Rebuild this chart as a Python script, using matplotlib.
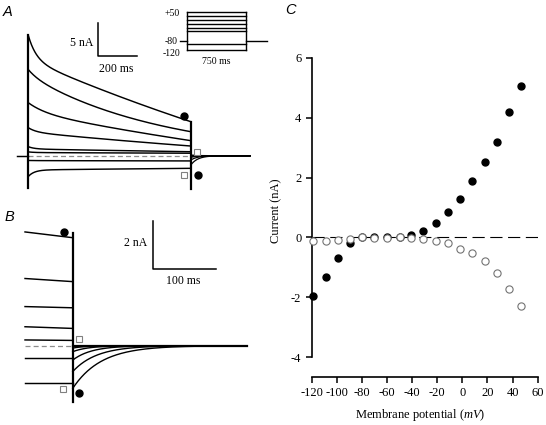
import numpy as np
import matplotlib
matplotlib.use('Agg')
import matplotlib.pyplot as plt

plt.rcParams['font.family'] = ['Liberation Serif', 'DejaVu Serif']
plt.rcParams['mathtext.fontset'] = 'custom'
plt.rcParams['mathtext.rm'] = 'Liberation Serif'
plt.rcParams['mathtext.it'] = 'Liberation Serif:italic'
plt.rcParams['axes.unicode_minus'] = False

# ---------------- Panel C data (I-V) ----------------
vm = [-119, -109, -99, -89.5, -80, -70, -60, -50, -40.7, -31, -21, -11.2,
      -1.7, 7.9, 18, 27.3, 37.3, 46.6]
i_filled = [-1.95, -1.34, -0.68, -0.20, 0.0, 0.03, 0.0, 0.0, 0.07, 0.21,
            0.48, 0.86, 1.29, 1.88, 2.53, 3.20, 4.19, 5.07]
i_open = [-0.13, -0.11, -0.09, -0.05, 0.02, -0.01, -0.01, 0.0, -0.01, -0.06,
          -0.12, -0.20, -0.38, -0.53, -0.80, -1.19, -1.73, -2.29]
xticks_c = [-120, -100, -80, -60, -40, -20, 0, 20, 40, 60]
yticks_c = [-4, -2, 0, 2, 4, 6]

# ---------------- Panel A data (current traces, nA / ms) ----------------
a_step_ms = 825
a_i_end = [5.2, 3.67, 2.3, 1.48, 0.61, 0.38, -0.80, -1.93]
a_d_slow = [9.5, 8.6, 4.35, 2.14, 0.42, 0.10, 0.05, -0.25]
a_tau_slow = [3000, 700, 3000, 3000, 3000, 3000, 3000, 3000]
a_d_fast = [3.7, 0.9, 1.45, 0.66, 0.35, 0.10, 0.02, -1.0]
a_tau_fast = [40, 50, 90, 40, 30, 30, 30, 30]
a_tail_amp = [0.1, -0.25, -0.66, -1.42]
a_tail_tau = 35
a_cap_low = [-4.94, -5.09]
a_marks_filled = [(792, 6.07), (860, -2.95)]
a_marks_open = [(855, 0.61), (792, -2.95)]

# inset protocol (mV)
proto_v = [50, 32, 13, -5, -24, -34, -95, -120]
proto_hold = -80
proto_ms = 750

# ---------------- Panel B data ----------------
b_pre_start = [4.74, 2.80, 1.63, 0.79, 0.24, -0.53, -1.57]
b_pre_end = [4.50, 2.67, 1.58, 0.72, 0.22, -0.53, -1.57]
b_pre_ms = 75.7
b_tail_amp = [-0.10, -0.25, -0.60, -1.08, -1.78]
b_tail_tau = [20, 25, 30, 38, 45]
b_tail_ms = 277
b_cap = (-2.35, 4.70)
b_marks_filled = [(-13.8, 4.72), (10, -1.98)]
b_marks_open = [(10, 0.28), (-15.9, -1.82)]

W, H = 546, 425
fig = plt.figure(figsize=(W / 100, H / 100), dpi=100)


def px_axes(x0, y0, x1, y1, xlim, ylim):
    ax = fig.add_axes([x0 / W, 1 - y1 / H, (x1 - x0) / W, (y1 - y0) / H])
    ax.set_xlim(*xlim)
    ax.set_ylim(*ylim)
    return ax


def ftext(x, y, s, **kw):
    fig.text(x / W, 1 - y / H, s, **kw)


LW = 1.05
# ================= Panel A =================
axA = px_axes(0, 0, 280, 200, ((0 - 28.3) / 0.197, (280 - 28.3) / 0.197),
              ((155.7 - 200) / 6.54, 155.7 / 6.54))
axA.axis('off')
T = a_step_ms
t = np.linspace(0, T, 600)
axA.plot([0, T], [0, 0], color='0.55', lw=0.9, dashes=(4, 2.5))
for ie, ds, ts, df, tf in zip(a_i_end, a_d_slow, a_tau_slow, a_d_fast, a_tau_fast):
    slow = (np.exp(-t / ts) - np.exp(-T / ts)) / (1 - np.exp(-T / ts))
    axA.plot(t, ie + ds * slow + df * np.exp(-t / tf), color='k', lw=LW)
top_peak = a_i_end[0] + a_d_slow[0] + a_d_fast[0]
axA.plot([-59, 0], [0, 0], color='k', lw=LW)
tt = np.linspace(T, 1125, 300)
axA.plot([T, 1125], [0, 0], color='k', lw=1.3)
for amp in a_tail_amp:
    axA.plot(tt, amp * np.exp(-(tt - T) / a_tail_tau), color='k', lw=0.9)
axA.plot([0, 0], [a_cap_low[0], top_peak], color='k', lw=1.6)
axA.plot([T, T], [a_cap_low[1], a_i_end[0]], color='k', lw=1.6)
for (x, y) in a_marks_filled:
    axA.plot(x, y, 'o', ms=5, color='k')
for (x, y) in a_marks_open:
    axA.plot(x, y, 's', ms=5, mfc='white', mec='0.5', mew=0.8)
# scale bar 5 nA / 200 ms
axA.plot([354, 354, 554], [15.24 + 5, 15.24, 15.24], color='k', lw=1.1)
ftext(93, 43.5, '5 nA', ha='right', va='center', fontsize=8.5)
ftext(116, 68.5, '200 ms', ha='center', va='center', fontsize=8.5)

# inset protocol
axP = px_axes(160, 0, 270, 70, ((160 - 186.7) / 0.0791, (270 - 186.7) / 0.0791),
              (-80 - 29 / 0.2254, -80 + 41 / 0.2254))
axP.axis('off')
for v in proto_v:
    axP.plot([0, proto_ms], [v, v], color='k', lw=1.0)
axP.plot([0, 0], [min(proto_v), max(proto_v)], color='k', lw=1.0)
axP.plot([proto_ms, proto_ms], [min(proto_v), max(proto_v)], color='k', lw=1.0)
axP.plot([-85, 0], [proto_hold, proto_hold], color='k', lw=1.0)
axP.plot([proto_ms, proto_ms + 262], [proto_hold, proto_hold], color='k', lw=1.0)
ftext(180, 13.5, '+50', ha='right', va='center', fontsize=7)
ftext(177.5, 41.5, '-80', ha='right', va='center', fontsize=7)
ftext(180, 53, '-120', ha='right', va='center', fontsize=7)
ftext(216, 62, '750 ms', ha='center', va='center', fontsize=7)

# ================= Panel B =================
axB = px_axes(0, 200, 280, 425, ((0 - 72.7) / 0.63, (280 - 72.7) / 0.63),
              ((345.7 - 425) / 24, (345.7 - 200) / 24))
axB.axis('off')
tp = np.linspace(-b_pre_ms, 0, 100)
axB.plot([-b_pre_ms, 0], [0, 0], color='0.55', lw=0.9, dashes=(4, 2.5))
for s0, s1 in zip(b_pre_start, b_pre_end):
    axB.plot(tp, s0 + (s1 - s0) * (tp + b_pre_ms) / b_pre_ms, color='k', lw=LW)
tb = np.linspace(0, b_tail_ms, 400)
axB.plot([0, b_tail_ms], [0, 0], color='k', lw=1.6)
for amp, tau in zip(b_tail_amp, b_tail_tau):
    axB.plot(tb, amp * np.exp(-tb / tau), color='k', lw=1.0)
axB.plot([0, 0], list(b_cap), color='k', lw=1.6)
for (x, y) in b_marks_filled:
    axB.plot(x, y, 'o', ms=5, color='k')
for (x, y) in b_marks_open:
    axB.plot(x, y, 's', ms=5, mfc='white', mec='0.5', mew=0.8)
axB.plot([127, 127, 227], [5.2, 3.2, 3.2], color='k', lw=1.1)
ftext(147, 243, '2 nA', ha='right', va='center', fontsize=8.5)
ftext(183.5, 281.5, '100 ms', ha='center', va='center', fontsize=8.5)

# ================= Panel C =================
axC = px_axes(311.7, 58, 537.7, 377, (-120, 60), (-4 - 20 / 29.9, 6))
for sp in ['top', 'right']:
    axC.spines[sp].set_visible(False)
axC.spines['left'].set_bounds(-4, 6)
axC.spines['left'].set_linewidth(1.2)
axC.spines['bottom'].set_linewidth(1.2)
axC.set_xticks(xticks_c)
axC.set_yticks(yticks_c)
axC.tick_params(direction='out', length=4.5, width=1.1, labelsize=9)
axC.tick_params(axis='x', pad=2.5)
axC.tick_params(axis='y', pad=3)
axC.plot([-120, 60], [0, 0], color='k', lw=0.8, dashes=(11, 5), zorder=1)
axC.plot(vm, i_filled, 'o', ms=5, color='k', clip_on=False, zorder=3)
axC.plot(vm, i_open, 'o', ms=5.2, mfc='white', mec='0.45', mew=0.8,
         clip_on=False, zorder=4)
axC.set_ylabel('Current (nA)', fontsize=9)
axC.yaxis.set_label_coords(-0.128, 0.52)
axC.set_xlabel('Membrane potential $\\mathit{(mV)}$', fontsize=9)
axC.xaxis.set_label_coords(0.48, -0.095)

# panel letters
for (x, y, s) in [(7.5, 12, 'A'), (9, 217.5, 'B'), (291, 10, 'C')]:
    ftext(x, y, s, ha='center', va='center', fontsize=10.5, style='italic',
          family=['Liberation Sans', 'DejaVu Sans'])

fig.savefig('out.png', dpi=100)
